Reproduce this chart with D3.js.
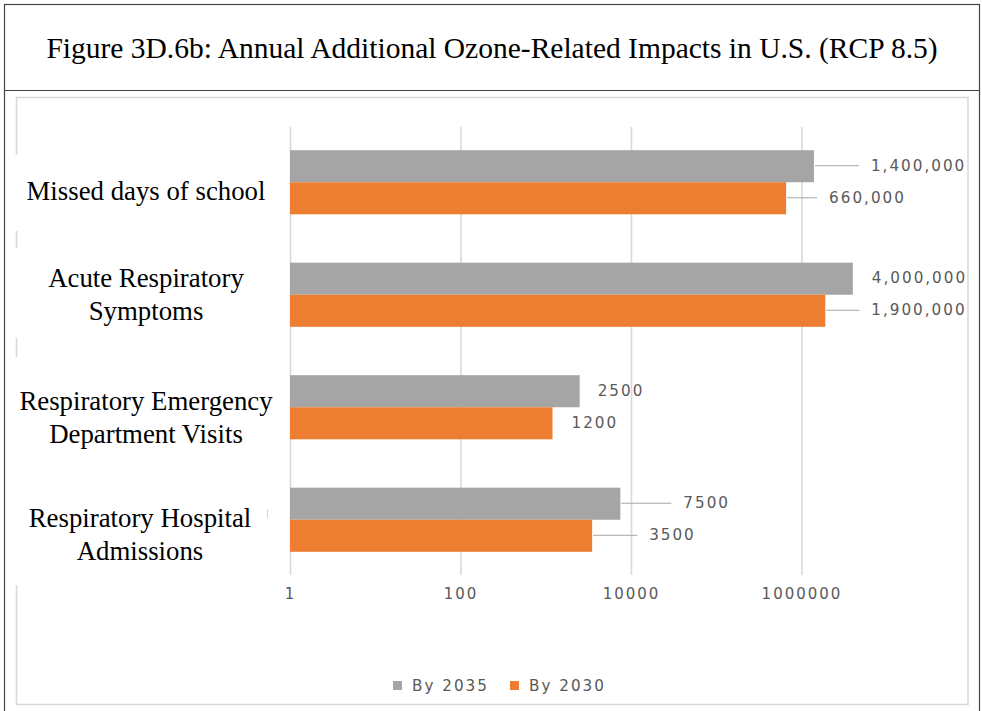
<!DOCTYPE html>
<html>
<head>
<meta charset="utf-8">
<script src="https://cdn.jsdelivr.net/npm/d3@7"></script>
<style>
  html, body { margin: 0; padding: 0; background: #fff; }
  svg { display: block; }
</style>
</head>
<body>
<svg id="chart" width="982" height="711"></svg>
<script>
// ---- data ----
const titleText = "Figure 3D.6b: Annual Additional Ozone-Related Impacts in U.S. (RCP 8.5)";
const categories = [
  "Missed days of school",
  "Acute Respiratory Symptoms",
  "Respiratory Emergency Department Visits",
  "Respiratory Hospital Admissions"
];
const categoryLines = [
  ["Missed days of school"],
  ["Acute Respiratory", "Symptoms"],
  ["Respiratory Emergency", "Department Visits"],
  ["Respiratory Hospital", "Admissions"]
];
const seriesNames = ["By 2035", "By 2030"];
const by2035 = [1400000, 4000000, 2500, 7500];
const by2030 = [660000, 1900000, 1200, 3500];
const tickValues = [1, 100, 10000, 1000000];

// ---- layout ----
const W = 982, H = 711;
const colors = { "By 2035": "#A5A5A5", "By 2030": "#ED7D31" };
// distance from the bar end to the start of each value label
const labelGap = {
  "By 2035": [57, 19, 18, 63],
  "By 2030": [43, 46, 19, 57]
};
// per-category label block placement (centre x, centre y offset from band centre)
const catLabelX = [146, 146, 146, 140];
const catLabelDy = [9, 0, 10, 15];

const svg = d3.select("#chart");

// outer frame and title box
svg.append("rect").attr("x", 0).attr("y", 0).attr("width", W).attr("height", H).attr("fill", "#fff");
svg.append("rect")
  .attr("x", 4.5).attr("y", 4.5).attr("width", 975).attr("height", H + 10)
  .attr("fill", "none").attr("stroke", "#444").attr("stroke-width", 1.2);
svg.append("line")
  .attr("x1", 4.5).attr("x2", 979.5).attr("y1", 90.5).attr("y2", 90.5)
  .attr("stroke", "#444").attr("stroke-width", 1.2);

svg.append("text")
  .attr("x", 492).attr("y", 58)
  .attr("text-anchor", "middle")
  .attr("font-family", "'Liberation Serif', 'Times New Roman', serif")
  .attr("font-size", 29.5)
  .attr("fill", "#000")
  .text(titleText);

// chart area border
svg.append("rect")
  .attr("x", 16.5).attr("y", 97.5).attr("width", 951.5).attr("height", 607)
  .attr("fill", "none").attr("stroke", "#D9D9D9").attr("stroke-width", 1.6);

// scales
const x = d3.scaleLog().domain([1, 1e8]).range([290, 972]);
const y = d3.scaleBand().domain(categories).range([126, 576])
  .paddingInner(0.43).paddingOuter(0.215);
const ySub = d3.scaleBand().domain(seriesNames).range([0, y.bandwidth()]);

// gridlines + tick labels
const axis = d3.axisBottom(x)
  .tickValues(tickValues)
  .tickFormat(d3.format("d"))
  .tickSize(-(575 - 127))
  .tickPadding(13);
const gAxis = svg.append("g").attr("transform", "translate(0,575)").call(axis);
gAxis.select(".domain").remove();
gAxis.selectAll(".tick line").attr("stroke", "#D9D9D9").attr("stroke-width", 1.6);
gAxis.selectAll(".tick text")
  .attr("fill", "#595959")
  .attr("font-family", "'DejaVu Sans', sans-serif")
  .attr("font-size", 15)
  .attr("letter-spacing", "2px");

// white panels behind the category labels
const panels = [[10, 155, 270, 76], [10, 248, 270, 90], [10, 357, 255, 228]];
svg.append("g").selectAll("rect").data(panels).join("rect")
  .attr("x", d => d[0]).attr("y", d => d[1]).attr("width", d => d[2]).attr("height", d => d[3])
  .attr("fill", "#fff");
svg.append("line").attr("x1", 267.5).attr("x2", 267.5).attr("y1", 509).attr("y2", 518)
  .attr("stroke", "#D9D9D9").attr("stroke-width", 1.2);

// category labels
const lineH = 33;
const gCat = svg.append("g")
  .attr("font-family", "'Liberation Serif', 'Times New Roman', serif")
  .attr("font-size", 26.8).attr("fill", "#000").attr("text-anchor", "middle");
categories.forEach((c, i) => {
  const lines = categoryLines[i];
  const cy = y(c) + y.bandwidth() / 2 + catLabelDy[i];
  lines.forEach((t, j) => {
    const lc = cy + (j - (lines.length - 1) / 2) * lineH;
    gCat.append("text").attr("x", catLabelX[i]).attr("y", lc + 9).text(t);
  });
});

// bars
const rows = categories.map((c, i) => ({ cat: c, i, values: [
  { key: "By 2035", value: by2035[i] },
  { key: "By 2030", value: by2030[i] }
]}));

const gRows = svg.append("g").selectAll("g").data(rows).join("g")
  .attr("transform", d => `translate(0,${y(d.cat)})`);

gRows.selectAll("rect").data(d => d.values).join("rect")
  .attr("x", x(1))
  .attr("y", d => ySub(d.key))
  .attr("width", d => x(d.value) - x(1))
  .attr("height", ySub.bandwidth())
  .attr("fill", d => colors[d.key]);

// value labels with leader lines
const fmt = v => v >= 100000 ? d3.format(",")(v) : String(v);
gRows.each(function (row) {
  const g = d3.select(this);
  row.values.forEach(d => {
    const end = x(d.value);
    const gap = labelGap[d.key][row.i];
    const cy = ySub(d.key) + ySub.bandwidth() / 2 - 1;
    if (gap > 30) {
      g.append("line")
        .attr("x1", end + 1).attr("x2", end + gap - 12)
        .attr("y1", cy + 0.5).attr("y2", cy + 0.5)
        .attr("stroke", "#A6A6A6").attr("stroke-width", 1);
    }
    g.append("text")
      .attr("x", end + gap).attr("y", cy)
      .attr("dy", "0.36em")
      .attr("fill", "#595959")
      .attr("font-family", "'DejaVu Sans', sans-serif")
      .attr("font-size", 15.2)
      .attr("letter-spacing", "2px")
      .text(fmt(d.value));
  });
});

// legend
const legend = svg.append("g").attr("transform", "translate(393,686)");
const legX = [0, 117];
seriesNames.forEach((s, i) => {
  legend.append("rect").attr("x", legX[i]).attr("y", -5).attr("width", 9).attr("height", 9)
    .attr("fill", colors[s]);
  legend.append("text").attr("x", legX[i] + 19).attr("y", 0).attr("dy", "0.36em")
    .attr("fill", "#595959")
    .attr("font-family", "'DejaVu Sans', sans-serif")
    .attr("font-size", 15.2)
    .attr("letter-spacing", "2px")
    .text(s);
});
</script>
</body>
</html>
